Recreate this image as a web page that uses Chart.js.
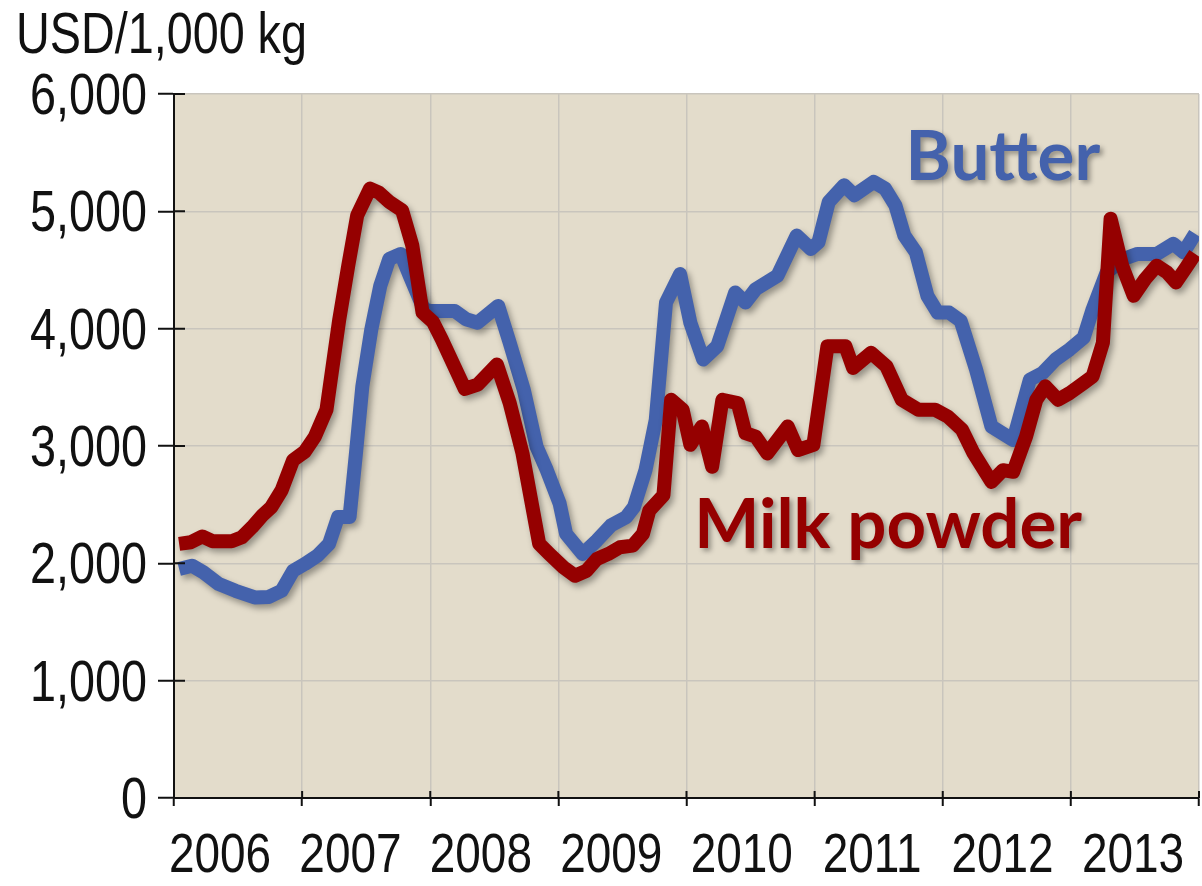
<!DOCTYPE html>
<html>
<head>
<meta charset="utf-8">
<title>Butter and milk powder prices</title>
<script src="https://cdn.jsdelivr.net/npm/chart.js@4.4.1/dist/chart.umd.min.js"></script>
<style>
  html, body { margin: 0; padding: 0; background: #fff; }
  #chart { display: block; }
</style>
</head>
<body>
<canvas id="chart" width="1202" height="886"></canvas>
<script>
// Oceania export prices, USD per 1,000 kg
const yearLabels = ['2006', '2007', '2008', '2009', '2010', '2011', '2012', '2013'];
const yTicks = [0, 1000, 2000, 3000, 4000, 5000, 6000];

const butterDates = [
  2006.04, 2006.14, 2006.23, 2006.35, 2006.48, 2006.63, 2006.74, 2006.84, 2006.93,
  2007.02, 2007.12, 2007.21, 2007.28, 2007.37, 2007.42, 2007.47, 2007.54, 2007.61, 2007.68, 2007.77, 2007.84, 2007.95,
  2008.00, 2008.19, 2008.28, 2008.37, 2008.53, 2008.62, 2008.73, 2008.83, 2008.91,
  2009.01, 2009.06, 2009.19, 2009.30, 2009.41, 2009.53, 2009.59, 2009.68, 2009.76, 2009.84, 2009.95,
  2010.03, 2010.13, 2010.24, 2010.38, 2010.46, 2010.54, 2010.71, 2010.86, 2010.97,
  2011.03, 2011.11, 2011.23, 2011.31, 2011.46, 2011.55, 2011.63, 2011.70, 2011.79, 2011.88, 2011.96,
  2012.05, 2012.14, 2012.26, 2012.38, 2012.55, 2012.68, 2012.78, 2012.88, 2012.99,
  2013.10, 2013.17, 2013.28, 2013.41, 2013.52, 2013.67, 2013.80, 2013.88, 2013.97
];
const butterValues = [
  1951, 1980, 1923, 1823, 1766, 1709, 1714, 1766, 1937,
  1994, 2066, 2166, 2394, 2394, 2937, 3509, 3994, 4366, 4594, 4637, 4450, 4166,
  4151, 4151, 4080, 4051, 4194, 3880, 3480, 2994, 2794,
  2509, 2251, 2080, 2194, 2323, 2394, 2480, 2794, 3223, 4223, 4465,
  4051, 3737, 3851, 4309, 4223, 4337, 4451, 4794, 4680,
  4737, 5080, 5223, 5137, 5251, 5194, 5051, 4794, 4651, 4280, 4137,
  4137, 4066, 3651, 3166, 3051, 3566, 3623, 3737, 3823,
  3923, 4166, 4480, 4594, 4637, 4637, 4723, 4651, 4809
];

const milkDates = [
  2006.04, 2006.13, 2006.22, 2006.30, 2006.45, 2006.53, 2006.61, 2006.69, 2006.76, 2006.84, 2006.93,
  2007.02, 2007.10, 2007.19, 2007.29, 2007.36, 2007.43, 2007.53, 2007.60, 2007.68, 2007.78, 2007.86, 2007.94,
  2008.02, 2008.09, 2008.27, 2008.37, 2008.52, 2008.62, 2008.72, 2008.85, 2008.93,
  2009.04, 2009.13, 2009.22, 2009.30, 2009.39, 2009.48, 2009.58, 2009.66, 2009.71, 2009.82, 2009.88, 2009.97,
  2010.03, 2010.12, 2010.20, 2010.28, 2010.40, 2010.46, 2010.54, 2010.63, 2010.79, 2010.87, 2010.99,
  2011.10, 2011.24, 2011.30, 2011.44, 2011.56, 2011.68, 2011.81, 2011.94,
  2012.04, 2012.15, 2012.24, 2012.38, 2012.47, 2012.55, 2012.65, 2012.73, 2012.80, 2012.90, 2012.99,
  2013.10, 2013.17, 2013.25, 2013.31, 2013.40, 2013.49, 2013.58, 2013.67, 2013.75, 2013.82, 2013.90, 2013.97
];
const milkValues = [
  2166, 2180, 2229, 2189, 2189, 2223, 2309, 2409, 2480, 2623, 2880,
  2951, 3080, 3309, 4080, 4537, 4966, 5194, 5160, 5080, 5009, 4709, 4137,
  4060, 3909, 3486, 3523, 3694, 3366, 2937, 2166, 2080,
  1966, 1894, 1937, 2037, 2080, 2137, 2151, 2251, 2451, 2580, 3394, 3309,
  3010, 3166, 2823, 3394, 3366, 3109, 3080, 2937, 3166, 2966, 3009,
  3851, 3851, 3666, 3794, 3680, 3394, 3309, 3309,
  3250, 3140, 2940, 2694, 2794, 2780, 3080, 3394, 3509, 3394, 3451,
  3537, 3594, 3880, 4937, 4537, 4280, 4423, 4537, 4480, 4394, 4523, 4637
];

const BLUE = '#4462ac';
const RED = '#950000';
const INK = '#111';
const SANS = "'Liberation Sans', Arial, sans-serif";
const SQUEEZE = 0.82; // the original uses a narrow face; squeeze a regular one

function narrowText(ctx, text, x, y, align) {
  ctx.save();
  ctx.translate(x, y);
  ctx.scale(SQUEEZE, 1);
  ctx.textAlign = align;
  ctx.fillText(text, 0, 0);
  ctx.restore();
}

// beige plot area
const plotBg = {
  id: 'plotBg',
  beforeDraw(chart) {
    const { ctx, chartArea: a } = chart;
    ctx.save();
    ctx.fillStyle = '#e3dccb';
    ctx.fillRect(a.left, a.top, a.right - a.left, a.bottom - a.top);
    ctx.restore();
  }
};

// soft drop shadow under the lines
const lineShadow = {
  id: 'lineShadow',
  beforeDatasetsDraw(chart) {
    const ctx = chart.ctx;
    ctx.save();
    ctx.shadowColor = 'rgba(0,0,0,0.35)';
    ctx.shadowBlur = 6;
    ctx.shadowOffsetX = 3;
    ctx.shadowOffsetY = 4;
  },
  afterDatasetsDraw(chart) {
    chart.ctx.restore();
  }
};

// unit title, narrow tick labels, inward half of the tick marks, series names
const extras = {
  id: 'extras',
  afterDraw(chart) {
    const { ctx, chartArea: a, scales: { x, y } } = chart;
    ctx.save();
    ctx.fillStyle = INK;
    ctx.textBaseline = 'alphabetic';
    ctx.font = '57px ' + SANS;
    narrowText(ctx, 'USD/1,000 kg', 16, 53, 'left');

    yTicks.forEach(v => {
      narrowText(ctx, v.toLocaleString('en-US'), 147, y.getPixelForValue(v) + 20, 'right');
    });
    // year labels sit a little wider apart than the year grid in the original
    ctx.font = '56px ' + SANS;
    const first = a.left + 46, last = a.right - 66;
    yearLabels.forEach((lbl, i) => {
      narrowText(ctx, lbl, first + i * (last - first) / (yearLabels.length - 1), 872, 'center');
    });

    ctx.strokeStyle = INK;
    ctx.lineWidth = 2;
    ctx.beginPath();
    yTicks.forEach(v => {
      const py = y.getPixelForValue(v);
      ctx.moveTo(x.left, py); ctx.lineTo(x.left + 11, py);
    });
    x.ticks.forEach(t => {
      const px = x.getPixelForValue(t.value);
      ctx.moveTo(px, y.bottom); ctx.lineTo(px, y.bottom - 7);
    });
    ctx.stroke();

    ctx.shadowColor = 'rgba(0,0,0,0.35)';
    ctx.shadowBlur = 5;
    ctx.shadowOffsetX = 3;
    ctx.shadowOffsetY = 3;
    ctx.font = "bold 69px Lato, 'Open Sans', sans-serif";
    ctx.textAlign = 'left';
    ctx.fillStyle = BLUE;
    ctx.fillText('Butter', x.getPixelForValue(2011.71), y.getPixelForValue(5270));
    ctx.fillStyle = RED;
    ctx.fillText('Milk powder', x.getPixelForValue(2010.06), y.getPixelForValue(2130));
    ctx.restore();
  }
};

const ctx = document.getElementById('chart').getContext('2d');
new Chart(ctx, {
  type: 'line',
  data: {
    datasets: [
      {
        label: 'Milk powder',
        data: milkDates.map((d, i) => ({ x: d, y: milkValues[i] })),
        borderColor: RED, borderWidth: 14, pointRadius: 0,
        borderJoinStyle: 'round', tension: 0, order: 0
      },
      {
        label: 'Butter',
        data: butterDates.map((d, i) => ({ x: d, y: butterValues[i] })),
        borderColor: BLUE, borderWidth: 14, pointRadius: 0,
        borderJoinStyle: 'round', tension: 0, order: 1
      }
    ]
  },
  options: {
    responsive: false,
    animation: false,
    layout: { padding: { left: 17, top: 94, right: 3, bottom: 0 } },
    plugins: { legend: { display: false }, tooltip: { enabled: false } },
    scales: {
      x: {
        type: 'linear', min: 2006, max: 2014,
        afterBuildTicks: s => { s.ticks = yearLabels.map(Number).concat(2014).map(v => ({ value: v })); },
        afterFit: s => { s.height = 88; s.paddingLeft = 0; s.paddingRight = 0; },
        grid: { color: '#c9c5bd', lineWidth: 1.5, tickColor: INK, tickLength: 8, tickWidth: 2 },
        border: { color: INK, width: 2 },
        ticks: { display: false }
      },
      y: {
        min: 0, max: 6000,
        afterBuildTicks: s => { s.ticks = yTicks.map(v => ({ value: v })); },
        afterFit: s => { s.width = 157; s.paddingTop = 0; s.paddingBottom = 0; },
        grid: { color: '#c9c5bd', lineWidth: 1.5, tickColor: INK, tickLength: 16, tickWidth: 2 },
        border: { color: INK, width: 2 },
        ticks: { display: false }
      }
    }
  },
  plugins: [plotBg, lineShadow, extras]
});
</script>
</body>
</html>
